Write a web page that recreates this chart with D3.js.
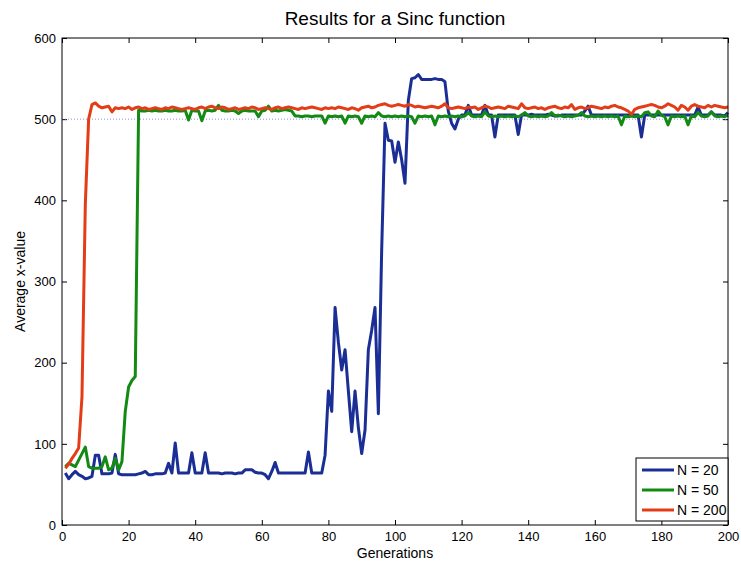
<!DOCTYPE html>
<html>
<head>
<meta charset="utf-8">
<style>
  body { margin: 0; background: #fff; }
  text { font-family: "Liberation Sans", Arial, sans-serif; }
</style>
</head>
<body>
<div id="container"></div>

<script src="https://d3js.org/d3.v7.min.js"></script>

<script>
  // average x-value per generation (generations 1..200)
  const n20 = [64,57,62,66,62,60,57,58,60,86,
    86,63,63,63,64,87,63,62,62,62,
    62,62,63,64,66,62,62,63,63,63,
    64,76,64,101,64,64,64,64,89,64,
    64,64,89,64,64,64,64,63,64,64,
    64,63,64,64,68,68,68,65,64,64,
    62,57,66,77,64,64,64,64,64,64,
    64,64,64,90,64,64,64,64,86,165,
    140,268,225,191,216,165,115,165,120,88,
    117,216,240,268,137,339,495,474,473,447,
    472,450,421,523,550,551,555,549,549,549,
    549,550,549,549,546,510,495,488,500,505,
    505,517,505,505,505,505,517,505,505,478,
    505,505,505,505,505,505,481,505,505,505,
    506,505,505,505,505,506,505,504,504,505,
    505,505,505,505,505,505,510,516,505,505,
    505,505,505,505,505,505,505,505,505,505,
    505,505,505,478,505,505,505,505,505,505,
    505,505,505,505,505,505,505,505,505,505,
    515,505,505,505,509,505,505,505,504,508];

  const n50 = [72,76,74,72,80,88,96,72,70,70,
    70,72,84,68,70,82,68,78,140,170,
    178,183,511,510,510,511,510,511,510,510,
    511,510,510,511,510,510,511,499,511,510,
    510,498,510,511,510,511,517,511,510,510,
    511,510,507,510,511,510,510,510,503,510,
    511,516,510,511,510,511,512,511,510,504,
    504,503,504,504,503,504,504,504,495,504,
    503,504,503,504,495,504,503,504,503,495,
    504,503,504,503,508,504,503,504,503,504,
    503,504,503,504,503,495,504,503,504,503,
    504,493,504,503,504,503,504,503,504,503,
    504,508,504,503,504,503,509,504,503,504,
    503,504,503,504,503,504,503,505,508,504,
    503,504,503,504,503,504,508,504,505,504,
    503,504,503,504,505,508,504,503,504,503,
    504,503,504,503,504,503,504,493,504,503,
    504,503,504,503,508,509,504,503,510,505,
    503,493,504,503,504,503,504,493,504,503,
    508,504,503,504,509,504,503,504,503,505];

  const n200 = [70,75,82,88,95,158,395,500,518,520,
    516,514,515,516,509,514,513,514,513,515,
    512,514,515,513,514,512,513,514,513,512,
    514,513,515,514,513,512,513,514,513,512,
    514,515,513,515,516,514,513,515,514,512,
    513,514,512,513,514,513,515,514,512,513,
    514,513,512,514,515,513,514,515,514,513,
    512,514,513,514,515,514,513,512,514,513,
    514,513,515,514,513,512,514,513,511,514,
    515,516,514,515,517,518,519,517,516,517,
    518,517,516,518,517,515,516,515,514,515,
    516,515,514,516,519,514,513,514,515,514,
    513,515,514,515,512,514,516,515,513,514,
    515,514,513,516,515,514,513,519,514,513,
    514,515,513,514,512,514,515,516,514,513,
    515,514,518,512,514,515,513,514,516,515,
    514,513,515,514,516,517,515,514,512,510,
    506,512,514,515,516,517,518,517,515,514,
    516,519,517,515,511,517,515,511,516,518,
    516,515,514,517,515,517,516,515,514,515];

  const seriesNames = ["N = 20", "N = 50", "N = 200"];
  const seriesColors = ["#1a2e96", "#138a13", "#e33d17"];
  const xTicks = [0,20,40,60,80,100,120,140,160,180,200];
  const yTicks = [0,100,200,300,400,500,600];
  const targetValue = 500;

  const W = 741, H = 564;
  const margin = { top: 38, right: 13, bottom: 39, left: 62 };
  const width = W - margin.left - margin.right;
  const height = H - margin.top - margin.bottom;

  const svg = d3.select("#container")
    .append("svg")
    .attr("width", W)
    .attr("height", H);

  const g = svg.append("g")
    .attr("transform", `translate(${margin.left}, ${margin.top})`);

  const x = d3.scaleLinear().domain([0, 200]).range([0, width]);
  const y = d3.scaleLinear().domain([0, 600]).range([height, 0]);

  // axes, ticks pointing inwards like matlab
  const styleAxis = sel => {
    sel.select(".domain").remove();
    sel.selectAll("line").attr("stroke", "#000");
    sel.selectAll("text").attr("fill", "#000").attr("font-size", 13);
  };

  g.append("g")
    .attr("transform", `translate(0, ${height})`)
    .call(d3.axisBottom(x).tickValues(xTicks).tickSize(-5).tickPadding(7))
    .call(styleAxis);
  g.append("g")
    .call(d3.axisTop(x).tickValues(xTicks).tickSize(-5).tickFormat(""))
    .call(styleAxis);
  g.append("g")
    .call(d3.axisLeft(y).tickValues(yTicks).tickSize(-5).tickPadding(6))
    .call(styleAxis);
  g.append("g")
    .attr("transform", `translate(${width}, 0)`)
    .call(d3.axisRight(y).tickValues(yTicks).tickSize(-5).tickFormat(""))
    .call(styleAxis);

  // dotted reference line
  g.append("line")
    .attr("x1", 0).attr("x2", width)
    .attr("y1", y(targetValue)).attr("y2", y(targetValue))
    .attr("stroke", "#8c8cf0")
    .attr("stroke-width", 1)
    .attr("stroke-dasharray", "1,2");

  const line = d3.line()
    .x((d, i) => x(i + 1))
    .y(d => y(d));

  [n20, n50, n200].forEach((s, k) => {
    g.append("path")
      .datum(s)
      .attr("fill", "none")
      .attr("stroke", seriesColors[k])
      .attr("stroke-width", 3)
      .attr("stroke-linejoin", "round")
      .attr("d", line);
  });

  // frame
  g.append("rect")
    .attr("width", width).attr("height", height)
    .attr("fill", "none").attr("stroke", "#000").attr("stroke-width", 1);

  // titles
  svg.append("text")
    .attr("x", margin.left + width / 2).attr("y", 25)
    .attr("text-anchor", "middle").attr("font-size", 19)
    .text("Results for a Sinc function");
  svg.append("text")
    .attr("x", margin.left + width / 2).attr("y", 558)
    .attr("text-anchor", "middle").attr("font-size", 14)
    .text("Generations");
  svg.append("text")
    .attr("transform", `translate(25, ${margin.top + height / 2}) rotate(-90)`)
    .attr("text-anchor", "middle").attr("font-size", 14)
    .text("Average x-value");

  // legend
  const leg = svg.append("g").attr("transform", "translate(636, 458)");
  leg.append("rect")
    .attr("width", 92).attr("height", 63)
    .attr("fill", "#fff").attr("stroke", "#000").attr("stroke-width", 1);
  seriesNames.forEach((name, k) => {
    const yy = 12 + k * 20;
    leg.append("line")
      .attr("x1", 6).attr("x2", 38).attr("y1", yy).attr("y2", yy)
      .attr("stroke", seriesColors[k]).attr("stroke-width", 3);
    leg.append("text")
      .attr("x", 41).attr("y", yy + 5).attr("font-size", 14)
      .text(name);
  });
</script>
</body>
</html>
